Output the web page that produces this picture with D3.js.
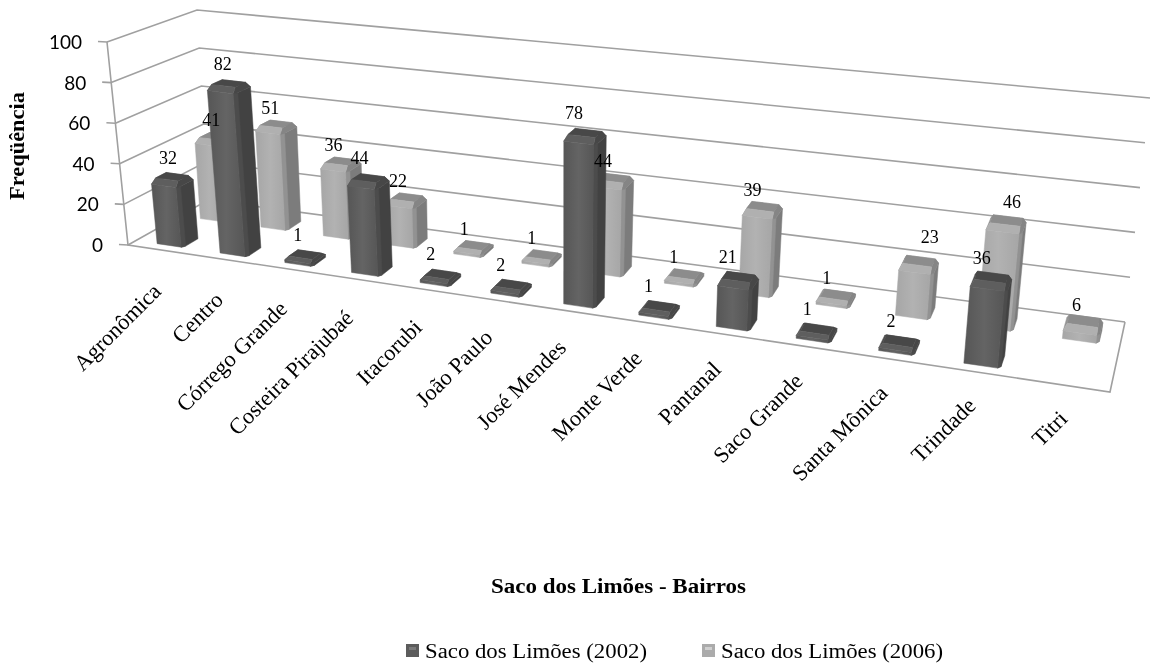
<!DOCTYPE html>
<html><head><meta charset="utf-8">
<script src="https://cdn.jsdelivr.net/npm/d3@7/dist/d3.min.js"></script>
<style>html,body{margin:0;background:#fff}svg{display:block;filter:blur(.35px)}</style></head>
<body><svg id="c" width="1151" height="664"></svg>
<script>
const categories = ["Agronômica","Centro","Córrego Grande","Costeira Pirajubaé","Itacorubi","João Paulo","José Mendes","Monte Verde","Pantanal","Saco Grande","Santa Mônica","Trindade","Titri"];
const series2002 = [32,82,1,44,2,2,78,1,21,1,2,36,null];
const series2006 = [41,51,36,22,1,1,44,1,39,1,23,46,6];
const seriesNames = ["Saco dos Limões (2002)","Saco dos Limões (2006)"];
const valueTicks = [0,20,40,60,80,100];
const xTitle = "Saco dos Limões - Bairros";
const yTitle = "Freqüência";
const labelShift = {"Santa Mônica 2006":[19,-7],"Trindade 2006":[12,-2],"Titri 2006":[-3,0],"Trindade 2002":[-3,0]};

const serif = "'Liberation Serif','Times New Roman',serif";
const svg = d3.select("#c");
const corner = {fl0:[128,245],fl1:[107,42],bl0:[208,200],bl1:[197,10],fr0:[1110,392],fr1:[1136,157],br0:[1125,322],br1:[1150,98]};
const catScale = d3.scaleBand().domain(categories).range([.004,1.004]).paddingInner(.58).paddingOuter(.29);
const depthScale = d3.scaleBand().domain(seriesNames).range([.1,.84]).paddingInner(.6545);
const zScale = d3.scaleLinear().domain([0,100]).range([0,1]);
const mix = (a,b,t)=>[a[0]+(b[0]-a[0])*t,a[1]+(b[1]-a[1])*t];
function P(t,v,val,k=.22){
  const u=t/(1+k*(1-t)), z=zScale(val);
  const f=mix(mix(corner.fl0,corner.fr0,u),mix(corner.fl1,corner.fr1,u),z);
  const b=mix(mix(corner.bl0,corner.br0,u),mix(corner.bl1,corner.br1,u),z);
  return mix(f,b,v);
}
const line = d3.line();
const poly = (g,pts,fill)=>g.append("path").attr("d",line(pts)+"Z").attr("fill",fill).attr("stroke",fill).attr("stroke-width",.5).attr("stroke-linejoin","round");
const grid = svg.append("g").attr("fill","none").attr("stroke","#a0a0a0").attr("stroke-width",1.6);
valueTicks.forEach(t=>{
  grid.append("path").attr("d",line([P(0,0,t),P(0,1,t),P(1,1,t)]));
  const a=P(0,0,t);
  grid.append("path").attr("d",line([[a[0]-9,a[1]-.5],a]));
});
grid.append("path").attr("d",line([P(0,0,100),P(0,0,0),P(1,0,0),P(1,1,0)]));

const defs = svg.append("defs");
const palette = [
 {id:"d",a:"#565656",b:"#646464",side:"#424242",top:"#484848",bevF:"#5e5e5e",bevS:"#474747",corner:"#4c4c4c",back:"#4a4a4a"},
 {id:"l",a:"#a6a6a6",b:"#b2b2b2",side:"#7c7c7c",top:"#8c8c8c",bevF:"#b0b0b0",bevS:"#858585",corner:"#929292",back:"#949494"}];
palette.forEach(c=>{
  const g=defs.append("linearGradient").attr("id","g"+c.id);
  g.append("stop").attr("offset",0).attr("stop-color",c.a);
  g.append("stop").attr("offset",.5).attr("stop-color",c.b);
  g.append("stop").attr("offset",1).attr("stop-color",c.a);
});
const marks = svg.append("g");
function bar(cat,name,val,c){
  const t0=catScale(cat), t1=t0+catScale.bandwidth(), v0=depthScale(name), v1=v0+depthScale.bandwidth();
  const zt=Math.max(val,2.6), g=Math.min(2.6,zt*.5), e=(t1-t0)*.08, f=(v1-v0)*.16;
  const G=marks.append("g");
  poly(G,[P(t1-e,v0,0),P(t1,v0+f,0),P(t1,v1,0),P(t1,v1,zt-g),P(t1,v0+f,zt-g),P(t1-e,v0,zt-g)],c.side);
  poly(G,[P(t1-e,v0,0),P(t1,v0+f,0),P(t1,v0+f,zt-g),P(t1-e,v0,zt-g)],c.corner);
  poly(G,[P(t0,v0,zt-g),P(t0+e,v0+f,zt),P(t0+e,v1-f,zt),P(t0,v1,zt-g)],c.back);
  poly(G,[P(t0+e,v1-f,zt),P(t1-e,v1-f,zt),P(t1,v1,zt-g),P(t0,v1,zt-g)],c.back);
  poly(G,[P(t0+e,v0+f,zt),P(t1-e,v0+f,zt),P(t1-e,v1-f,zt),P(t0+e,v1-f,zt)],c.top);
  poly(G,[P(t1-e,v0,zt-g),P(t1,v0+f,zt-g),P(t1,v1,zt-g),P(t1-e,v1-f,zt),P(t1-e,v0+f,zt)],c.bevS);
  poly(G,[P(t0,v0,zt-g),P(t1-e,v0,zt-g),P(t1-e,v0+f,zt),P(t0+e,v0+f,zt)],c.bevF);
  poly(G,[P(t0,v0,0),P(t1-e,v0,0),P(t1-e,v0,zt-g),P(t0,v0,zt-g)],"url(#g"+c.id+")");
}
[[seriesNames[1],series2006,palette[1]],[seriesNames[0],series2002,palette[0]]].forEach(([n,vals,c])=>{
  categories.forEach((cat,i)=>{ if(vals[i]!=null) bar(cat,n,vals[i],c); });
});
// data labels
const labels = svg.append("g").attr("font-family",serif).attr("font-size",18).attr("text-anchor","middle").attr("fill","#000");
[[seriesNames[1],series2006,"2006",-10],[seriesNames[0],series2002,"2002",-13]].forEach(([n,vals,yr,dy])=>{
  categories.forEach((cat,i)=>{
    if(vals[i]==null) return;
    const p=P(catScale(cat)+catScale.bandwidth()/2,depthScale(n)+depthScale.bandwidth()/2,Math.max(vals[i],2.6),.26);
    const s=labelShift[cat+" "+yr]||[0,0];
    labels.append("text").attr("x",p[0]-3+s[0]).attr("y",p[1]+dy+s[1]).text(vals[i]);
  });
});
// value ticks
const ticks = svg.append("g").attr("font-family","Lato,'Open Sans',sans-serif").attr("font-size",19).attr("text-anchor","end").attr("fill","#000");
valueTicks.forEach(t=>{ const a=P(0,0,t); ticks.append("text").attr("x",a[0]-25).attr("y",a[1]+7).text(t); });
// category labels
const cl = svg.append("g").attr("font-family",serif).attr("font-size",22.5).attr("text-anchor","end").attr("fill","#000");
categories.forEach(cat=>{
  const t=catScale(cat)+catScale.bandwidth()/2, p=P(t,0,0,.26);
  cl.append("text").attr("transform",`translate(${p[0]+1},${p[1]+34+9*(1-t)}) rotate(-45)`).text(cat);
});
// titles
svg.append("text").attr("font-family",serif).attr("font-weight","bold").attr("font-size",20).attr("x",491).attr("y",593).attr("textLength",255).attr("lengthAdjust","spacingAndGlyphs").text(xTitle);
svg.append("text").attr("font-family",serif).attr("font-weight","bold").attr("font-size",20).attr("transform","translate(24,200) rotate(-90)").attr("textLength",108).attr("lengthAdjust","spacingAndGlyphs").text(yTitle);
// legend
const lg = svg.append("g");
seriesNames.forEach((n,i)=>{
  const x=[406,702][i];
  lg.append("rect").attr("x",x).attr("y",644).attr("width",13).attr("height",13).attr("fill",i?"#ababab":"#5c5c5c");
  lg.append("rect").attr("x",x+3).attr("y",647).attr("width",7).attr("height",3).attr("fill",i?"#d0d0d0":"#7a7a7a");
  lg.append("text").attr("font-family",serif).attr("font-size",20).attr("x",x+19).attr("y",658).attr("textLength",222).attr("lengthAdjust","spacingAndGlyphs").text(n);
});
</script></body></html>
